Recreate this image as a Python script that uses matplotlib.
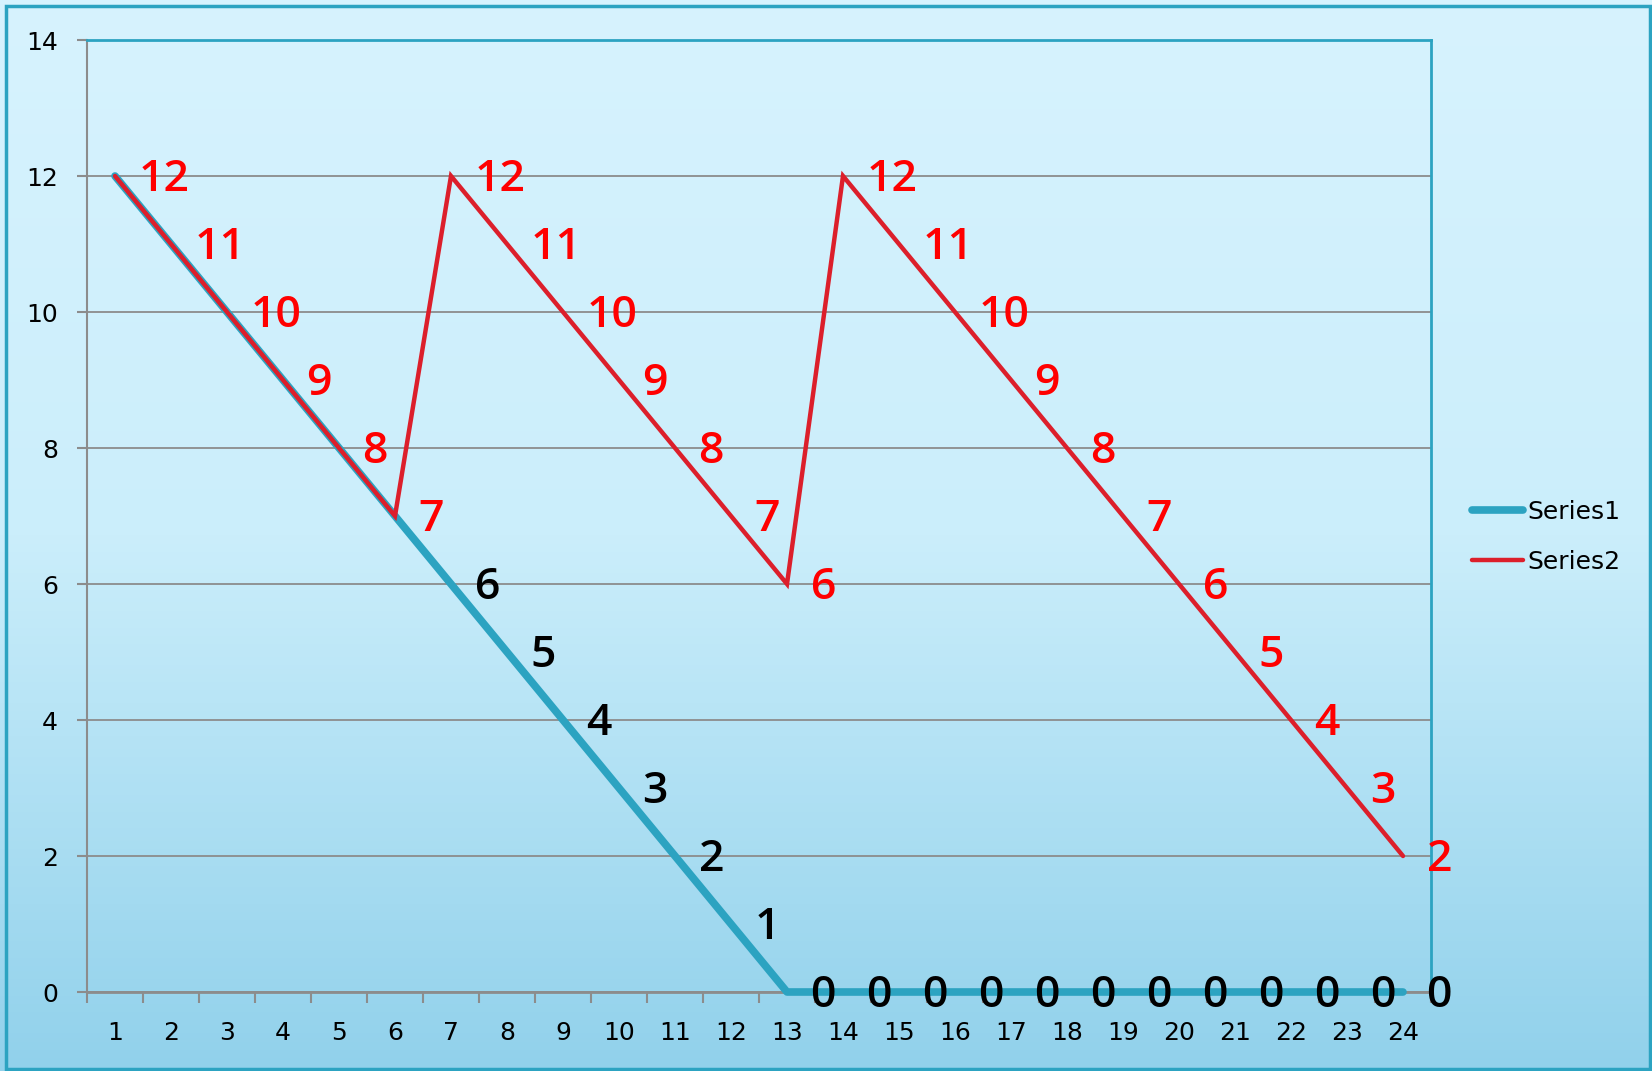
import numpy as np
import matplotlib
matplotlib.use('Agg')
import matplotlib.pyplot as plt
from matplotlib.colors import LinearSegmentedColormap
from matplotlib.patches import Rectangle

categories = list(range(1, 25))
series1 = [12, 11, 10, 9, 8, 7, 6, 5, 4, 3, 2, 1, 0, 0, 0, 0, 0, 0, 0, 0, 0, 0, 0, 0]
series2 = [12, 11, 10, 9, 8, 7, 12, 11, 10, 9, 8, 7, 6, 12, 11, 10, 9, 8, 7, 6, 5, 4, 3, 2]
series_names = ['Series1', 'Series2']
y_ticks = list(range(0, 15, 2))

teal = '#2CA3C1'
red_line = '#DC1F2B'
grid_gray = '#8C8C8C'

plt.rcParams['font.family'] = ['DejaVu Sans']

fig = plt.figure(figsize=(16.52, 10.71), dpi=100)

# gradient background
bg = fig.add_axes([0, 0, 1, 1], zorder=-10)
cmap = LinearSegmentedColormap.from_list('bg', ['#D7F3FE', '#CBEEFB', '#91D1EB'])
grad = np.linspace(0, 1, 256).reshape(-1, 1)
bg.imshow(grad, aspect='auto', cmap=cmap, extent=[0, 1, 0, 1], origin='upper')
bg.set_xlim(0, 1)
bg.set_ylim(0, 1)
bg.axis('off')
# outer chart border
bg.add_patch(Rectangle((6 / 1652, 2 / 1071), 1644 / 1652, 1063 / 1071,
                       fill=False, edgecolor=teal, lw=2.5, transform=bg.transAxes))

ax = fig.add_axes([87 / 1652, 1 - 992 / 1071, 1344 / 1652, 952 / 1071])
ax.set_facecolor('none')

ax.plot(categories, series1, color=teal, lw=5.5, solid_capstyle='round',
        solid_joinstyle='round', clip_on=False, zorder=3, label=series_names[0])
ax.plot(categories, series2, color=red_line, lw=3.2, solid_capstyle='round',
        solid_joinstyle='miter', clip_on=False, zorder=4, label=series_names[1])

# data labels; series2 labels sit on top of series1 where they coincide
lbl = dict(textcoords='offset points', ha='left', va='center', fontsize=32,
           fontweight='semibold', family=['Open Sans', 'DejaVu Sans'],
           annotation_clip=False)
for x, v1, v2 in zip(categories, series1, series2):
    if v1 != v2:
        ax.annotate(str(v1), (x, v1), xytext=(17, -2.5), color='black', zorder=5, **lbl)
    ax.annotate(str(v2), (x, v2), xytext=(17, -2.5), color='#FF0000', zorder=6, **lbl)

ax.set_xlim(0.5, 24.5)
ax.set_ylim(0, 14)
ax.set_yticks(y_ticks)
ax.set_xticks(categories)
ax.set_xticks(np.arange(0.5, 25, 1), minor=True)
ax.tick_params(axis='x', which='major', length=0, pad=21, labelsize=18)
ax.tick_params(axis='x', which='minor', length=8, width=1.5, color=grid_gray, direction='out')
ax.tick_params(axis='y', length=7, width=1.5, color=grid_gray, pad=14, labelsize=18)
ax.yaxis.grid(True, color=grid_gray, lw=1.3)
ax.set_axisbelow(True)

ax.spines['left'].set_color(grid_gray)
ax.spines['left'].set_linewidth(1.5)
ax.spines['bottom'].set_color(grid_gray)
ax.spines['bottom'].set_linewidth(2)
ax.spines['top'].set_color(teal)
ax.spines['top'].set_linewidth(2)
ax.spines['right'].set_color(teal)
ax.spines['right'].set_linewidth(2)

fig.legend(loc='center left', bbox_to_anchor=(1472 / 1652, 1 - 537 / 1071),
           frameon=False, fontsize=18, handlelength=2.05, handletextpad=0.15,
           labelspacing=1.05, borderpad=0, borderaxespad=0)

fig.savefig('out.png', dpi=100)
